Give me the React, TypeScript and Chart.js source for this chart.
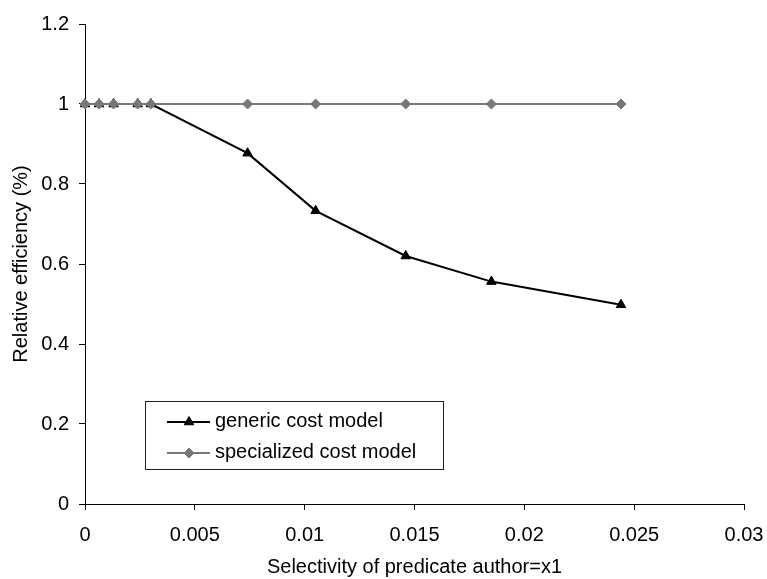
import React, { useEffect, useRef } from "react";
import { Chart, registerables } from "chart.js";

Chart.register(...registerables);

const selectivity = [0, 0.00064, 0.0013, 0.0024, 0.003, 0.0074, 0.0105, 0.0146, 0.0185, 0.0244];
const genericCost = [1, 1, 1, 1, 1, 0.877, 0.733, 0.62, 0.556, 0.498];
const specializedCost = [1, 1, 1, 1, 1, 1, 1, 1, 1, 1];
const xTicks = [0, 0.005, 0.01, 0.015, 0.02, 0.025, 0.03];
const yTicks = [0, 0.2, 0.4, 0.6, 0.8, 1, 1.2];
const seriesNames = ["generic cost model", "specialized cost model"];
const xTitle = "Selectivity of predicate author=x1";
const yTitle = "Relative efficiency (%)";

const FONT = "'Liberation Sans', Arial, sans-serif";
const BLACK = "#000000";
const GRAY = "#777777";

function drawMarker(ctx: CanvasRenderingContext2D, style: string, x: number, y: number, r: number) {
  ctx.beginPath();
  if (style === "triangle") {
    const h = r * Math.sin(Math.PI / 3);
    ctx.moveTo(x, y - r);
    ctx.lineTo(x + h, y + r / 2);
    ctx.lineTo(x - h, y + r / 2);
  } else {
    ctx.moveTo(x, y - r);
    ctx.lineTo(x + r, y);
    ctx.lineTo(x, y + r);
    ctx.lineTo(x - r, y);
  }
  ctx.closePath();
  ctx.fill();
  ctx.stroke();
}

const legendPlugin = {
  id: "boxLegend",
  afterDraw(chart: any) {
    const ctx = chart.ctx as CanvasRenderingContext2D;
    ctx.save();
    const left = 145.5, top = 401.5, right = 443.5, bottom = 469.5;
    ctx.fillStyle = "#ffffff";
    ctx.fillRect(left, top, right - left, bottom - top);
    ctx.strokeStyle = "#222";
    ctx.lineWidth = 1;
    ctx.strokeRect(left, top, right - left, bottom - top);
    const rows = [
      { name: seriesNames[0], color: BLACK, style: "triangle", y: 422, r: 5.5 },
      { name: seriesNames[1], color: GRAY, style: "rectRot", y: 453, r: 5 },
    ];
    rows.forEach((row) => {
      ctx.strokeStyle = row.color;
      ctx.lineWidth = 2;
      ctx.beginPath();
      ctx.moveTo(167, row.y);
      ctx.lineTo(210, row.y);
      ctx.stroke();
      ctx.fillStyle = row.color;
      ctx.lineWidth = 1;
      drawMarker(ctx, row.style, 189, row.y, row.r);
      ctx.fillStyle = BLACK;
      ctx.font = `20px ${FONT}`;
      ctx.textAlign = "left";
      ctx.textBaseline = "alphabetic";
      ctx.fillText(row.name, 215, row.y + 5);
    });
    ctx.restore();
  },
};

export default function App() {
  const canvasRef = useRef<HTMLCanvasElement | null>(null);

  useEffect(() => {
    const canvas = canvasRef.current;
    if (!canvas) return;
    const chart = new Chart(canvas, {
      type: "line",
      data: {
        datasets: [
          {
            label: seriesNames[0],
            data: selectivity.map((x, i) => ({ x, y: genericCost[i] })),
            borderColor: BLACK,
            backgroundColor: BLACK,
            borderWidth: 2,
            pointStyle: "triangle",
            pointRadius: 5.5,
            pointBorderWidth: 1,
            pointBackgroundColor: BLACK,
            pointBorderColor: BLACK,
            tension: 0,
            clip: false as any,
            order: 2,
          },
          {
            label: seriesNames[1],
            data: selectivity.map((x, i) => ({ x, y: specializedCost[i] })),
            borderColor: GRAY,
            backgroundColor: GRAY,
            borderWidth: 2,
            pointStyle: "rectRot",
            pointRadius: 5,
            pointBorderWidth: 1,
            pointBackgroundColor: GRAY,
            pointBorderColor: GRAY,
            tension: 0,
            clip: false as any,
            order: 1,
          },
        ],
      },
      options: {
        responsive: false,
        animation: false,
        devicePixelRatio: 1,
        layout: { padding: { left: 0, top: 24, right: 23, bottom: 0 } },
        plugins: {
          legend: { display: false },
          tooltip: { enabled: false },
        },
        scales: {
          x: {
            type: "linear",
            min: 0,
            max: 0.03,
            afterBuildTicks: (scale: any) => {
              scale.ticks = xTicks.map((v) => ({ value: v }));
            },
            afterFit: (scale: any) => {
              scale.height = 75;
              scale.paddingLeft = 0;
              scale.paddingRight = 0;
            },
            ticks: {
              color: BLACK,
              padding: 13,
              maxRotation: 0,
              autoSkip: false,
              font: { family: FONT, size: 20 },
              callback: (v: any) => String(Number(Number(v).toFixed(4))),
            },
            grid: { drawOnChartArea: false, drawTicks: true, tickLength: 6, color: BLACK },
            border: { display: true, color: BLACK, width: 1 },
            title: {
              display: true,
              text: xTitle,
              color: BLACK,
              font: { family: FONT, size: 20 },
              padding: { top: 0, bottom: 0 },
            },
          },
          y: {
            type: "linear",
            min: 0,
            max: 1.2,
            afterBuildTicks: (scale: any) => {
              scale.ticks = yTicks.map((v) => ({ value: v }));
            },
            afterFit: (scale: any) => {
              scale.width = 85;
              scale.paddingTop = 0;
              scale.paddingBottom = 0;
            },
            ticks: {
              color: BLACK,
              padding: 10,
              autoSkip: false,
              font: { family: FONT, size: 20 },
              callback: (v: any) => String(Number(Number(v).toFixed(2))),
            },
            grid: { drawOnChartArea: false, drawTicks: true, tickLength: 6, color: BLACK },
            border: { display: true, color: BLACK, width: 1 },
            title: {
              display: true,
              text: yTitle,
              color: BLACK,
              font: { family: FONT, size: 20 },
              padding: { top: 9, bottom: 0 },
            },
          },
        },
      },
      plugins: [legendPlugin],
    });
    return () => chart.destroy();
  }, []);

  return (
    <div style={{ position: "absolute", left: 0, top: 0, width: 767, height: 579, background: "#fff" }}>
      <canvas ref={canvasRef} width={767} height={579} style={{ display: "block" }} />
    </div>
  );
}
